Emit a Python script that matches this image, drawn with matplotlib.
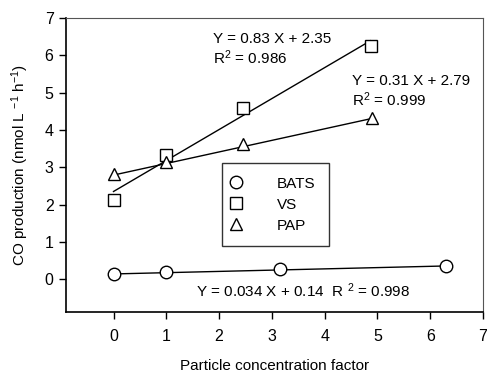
import numpy as np
import matplotlib
matplotlib.use('Agg')
import matplotlib.pyplot as plt

plt.rcParams['font.family'] = ['Liberation Sans', 'DejaVu Sans']
plt.rcParams['mathtext.fontset'] = 'custom'
plt.rcParams['mathtext.rm'] = 'Liberation Sans'
plt.rcParams['mathtext.it'] = 'Liberation Sans'

# data
bats_x = [0, 1, 3.15, 6.3]
bats_y = [0.14, 0.18, 0.26, 0.36]
vs_x = [0, 1, 2.45, 4.87]
vs_y = [2.12, 3.32, 4.58, 6.25]
pap_x = [0, 1, 2.45, 4.9]
pap_y = [2.81, 3.15, 3.61, 4.33]

# regression fits (slope, intercept) as printed on the chart
bats_fit = (0.034, 0.14)
vs_fit = (0.83, 2.35)
pap_fit = (0.31, 2.79)

fig = plt.figure(figsize=(4.87, 3.75), dpi=100)
ax = fig.add_axes([66/487, 1 - 312/375, (483-66)/487, (312-18)/375])

for xs, ys, fit, mk, ms, lab in [(bats_x, bats_y, bats_fit, 'o', 9, 'BATS'),
                                  (vs_x, vs_y, vs_fit, 's', 8, 'VS'),
                                  (pap_x, pap_y, pap_fit, '^', 9, 'PAP')]:
    xl = np.array([xs[0], xs[-1]])
    ax.plot(xl, fit[0] * xl + fit[1], color='black', lw=1)
    ax.plot(xs, ys, linestyle='none', marker=mk, ms=ms, mfc='white',
            mec='black', mew=1, label=lab, zorder=3)

ax.set_xlim(-0.9, 7)
ax.set_ylim(-0.88, 7)
ax.set_xticks(range(0, 8))
ax.set_yticks(range(0, 8))
ax.tick_params(direction='out', length=5, width=1, labelsize=11.5)
ax.tick_params(axis='x', pad=7)
ax.tick_params(axis='y', pad=4)
for s in ['top', 'right']:
    ax.spines[s].set_color('#555555')
    ax.spines[s].set_linewidth(0.8)
for s in ['left', 'bottom']:
    ax.spines[s].set_linewidth(1.2)

ax.set_xlabel('Particle concentration factor', fontsize=11, labelpad=11)
ax.set_ylabel(r'CO production (nmol L $^{-1}$ h$^{-1}$)', fontsize=11, labelpad=10)

fs = 11
ax.text(1.88, 6.33, 'Y = 0.83 X + 2.35', fontsize=fs, va='baseline')
ax.text(1.88, 5.76, r'R$^{2}$ = 0.986', fontsize=fs, va='baseline')
ax.text(4.52, 5.20, 'Y = 0.31 X + 2.79', fontsize=fs, va='baseline')
ax.text(4.52, 4.64, r'R$^{2}$ = 0.999', fontsize=fs, va='baseline')
ax.text(1.57, -0.48, r'Y = 0.034 X + 0.14  R $^{2}$ = 0.998', fontsize=fs, va='baseline')

leg = ax.legend(loc='upper left', bbox_to_anchor=((222-66)/417, (312-163)/294),
                frameon=True, fancybox=False, edgecolor='black', fontsize=fs,
                numpoints=1, handlelength=0, handletextpad=2.7, borderpad=0.9,
                labelspacing=0.45, borderaxespad=0)
leg.get_frame().set_linewidth(1)

fig.savefig('out.png', dpi=100)
